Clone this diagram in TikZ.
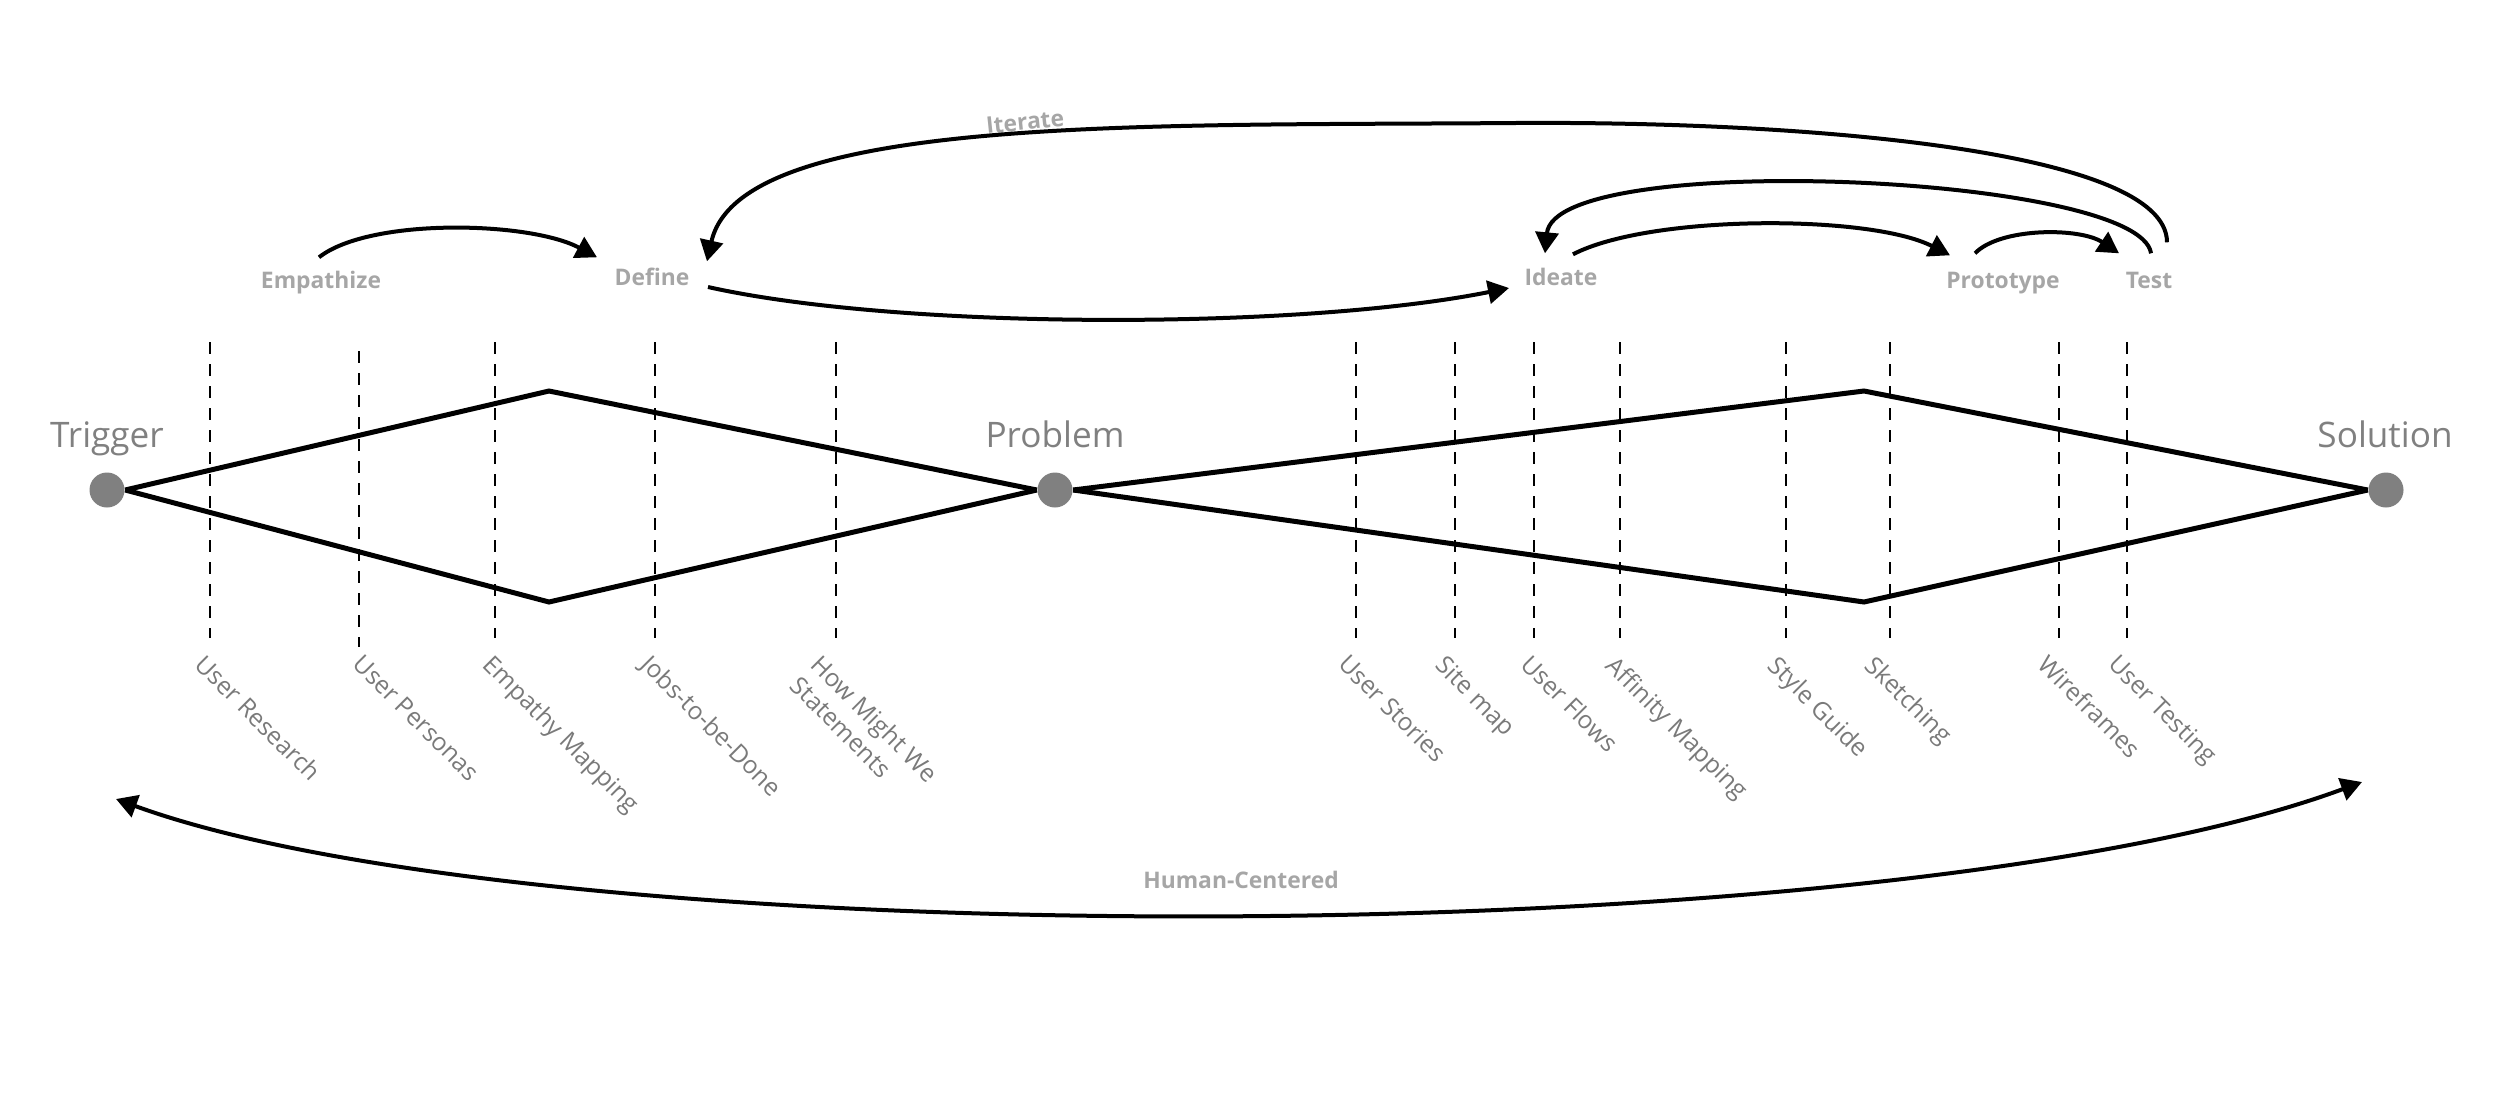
\documentclass[tikz,border=0pt]{standalone}
\usepackage{fontspec}
\setmainfont{Open Sans}
\usepackage{tikz}
\usetikzlibrary{arrows.meta, calc}
\definecolor{milestonegray}{RGB}{128,128,128}
\definecolor{phasegray}{RGB}{166,166,166}
\definecolor{toolgray}{RGB}{122,122,122}

\begin{document}
\begin{tikzpicture}[x=0.1mm, y=-0.1mm,
    milestone/.style={circle, 
      fill=milestonegray, 
      inner sep=0pt, 
      minimum size=3.5mm},
    title/.style={text=milestonegray, 
      font=\fontsize{10}{12}\selectfont, 
      inner sep=0pt, 
      anchor=base},
    phase/.style={text=phasegray, 
      font=\fontsize{6.5}{8}\selectfont\bfseries, 
      inner sep=0pt, 
      text height=1.8mm, 
      anchor=base},
    tool/.style={text=toolgray, 
      font=\fontsize{7}{8.5}\selectfont, 
      inner sep=0pt, 
      align=left, 
      rotate=-45, 
      anchor=north west},
    guide/.style={line width=0.2mm, dash pattern=on 1.2mm off 1mm},
    stage/.style={line width=0.5mm, line join=miter},
    flow/.style={line width=0.4mm, -{Triangle[length=2.1mm, width=2.3mm]}},
    twoway/.style={line width=0.4mm, 
      {Triangle[length=2.1mm, width=2.3mm]}-{Triangle[length=2.1mm, width=2.3mm]}}]
  \useasboundingbox (0,0) rectangle (2500,1110);

  \node[milestone] (trigger) at (107,490) {};
  \node[milestone] (problem) at (1055,490) {};
  \node[milestone] (solution) at (2386,490) {};

  \node[title] (triggertitle) at (107,447) {Trigger};
  \node[title] (problemtitle) at (1055,447) {Problem};
  \node[title] (solutiontitle) at (2385,447) {Solution};

% DOUBLE DIAMOND

  \coordinate (discover top) at (549,391);
  \coordinate (discover bottom) at (549,602);
  \coordinate (develop top) at (1864,391);
  \coordinate (develop bottom) at (1864,602);

  \draw[stage] (trigger.east) -- (discover top) -- (problem.west);
  \draw[stage] (trigger.east) -- (discover bottom) -- (problem.west);
  \draw[stage] (problem.east) -- (develop top) -- (solution.west);
  \draw[stage] (problem.east) -- (develop bottom) -- (solution.west);

% METHODS

  \draw[guide] (210,342) -- (210,638);
  \draw[guide] (359,351) -- (359,647);
  \draw[guide] (495,342) -- (495,638);
  \draw[guide] (655,342) -- (655,638);
  \draw[guide] (836,342) -- (836,638);
  \draw[guide] (1356,342) -- (1356,638);
  \draw[guide] (1455,342) -- (1455,638);
  \draw[guide] (1534,342) -- (1534,638);
  \draw[guide] (1620,342) -- (1620,638);
  \draw[guide] (1786,342) -- (1786,638);
  \draw[guide] (1890,342) -- (1890,638);
  \draw[guide] (2059,342) -- (2059,638);
  \draw[guide] (2127,342) -- (2127,638);

  \node[tool] (userresearch) at (207,652) {User Research};
  \node[tool] (userpersonas) at (364,652) {User Personas};
  \node[tool] (empathymapping) at (495,652) {Empathy Mapping};
  \node[tool] (jobs) at (653,652) {Jobs-to-be-Done};
  \node[tool] (hmw) at (823,652) {How Might We\\Statements};
  \node[tool] (userstories) at (1350,652) {User Stories};
  \node[tool] (sitemap) at (1447,653) {Site map};
  \node[tool] (userflows) at (1533,652) {User Flows};
  \node[tool] (affinitymapping) at (1618,653) {Affinity Mapping};
  \node[tool] (styleguide) at (1780,653) {Style Guide};
  \node[tool] (sketching) at (1877,653) {Sketching};
  \node[tool] (wireframes) at (2050,652) {Wireframes};
  \node[tool] (usertesting) at (2120,652) {User Testing};

% PHASES

  \node[phase] (empathize) at (321,288) {Empathize};
  \node[phase] (define) at (652,285) {Define};
  \node[phase] (ideate) at (1561,285) {Ideate};
  \node[phase] (prototype) at (2003,288) {Prototype};
  \node[phase] (test) at (2149,288) {Test};

  \node[phase, anchor=center, rotate=6] (iterate) at (1025,121) {Iterate};
  \node[phase] (humancentered) at (1241,888) {Human-Centered};

  \draw[flow] ($(empathize.north)+(-2,-12)$) 
  .. controls +(51,-40) and +(-67,-36) .. ($(define.north)+(-55,-9)$);

  \draw[flow] ($(define.base)+(56,2)$) 
  .. controls +(192,43) and +(-209,42) .. ($(ideate.base)+(-52,3)$);

  \draw[flow] ($(ideate.north)+(12,-12)$) 
  .. controls +(77,-40) and +(-80,-41) .. ($(prototype.north)+(-53,-14)$);

  \draw[flow] ($(prototype.north)+(-28,-16)$) 
  .. controls +(25,-26) and +(-39,-26) .. ($(test.north)+(-30,-16)$);

  \draw[flow] ($(test.north)+(2,-16)$) 
  .. controls +(-11,-79) and +(10,-104) .. ($(ideate.north)+(-16,-13)$);

% ITERATE

  \coordinate (iteratetop) at (1515,123);
  \draw[flow] ($(test.north)+(18,-27)$) 
  .. controls +(0,-93) and +(285,-2) .. (iteratetop) 
  .. controls +(-365,3) and +(33,-147) .. ($(define.north)+(55,-5)$);

% HUMAN-CENTERED

  \coordinate (hcleft) at (116,799);
  \coordinate (hcright) at (2362,782);
  \draw[twoway] (hcleft) 
  .. controls +(430,157) and +(-470,174) .. (hcright);

\end{tikzpicture}
\end{document}
